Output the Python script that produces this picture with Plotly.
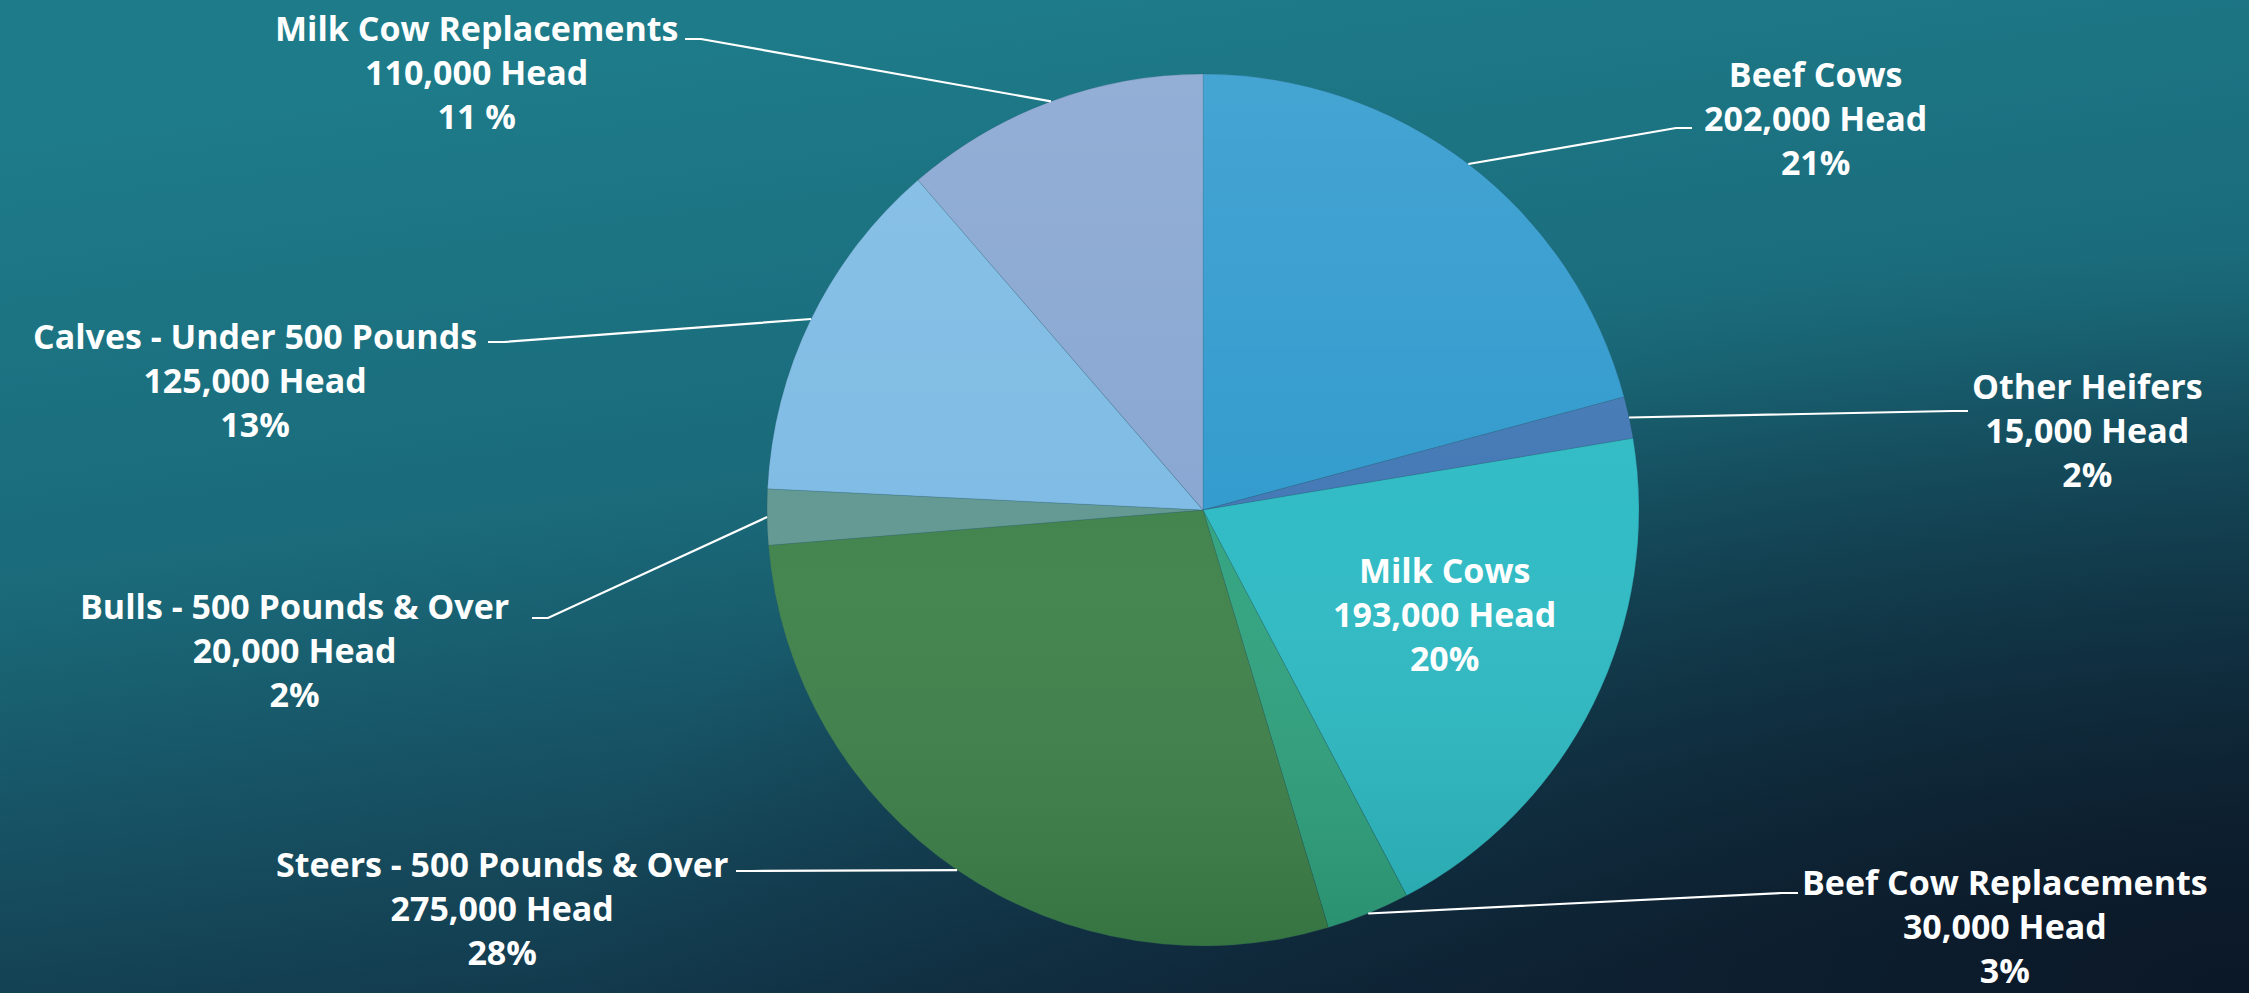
import math, base64
import plotly.graph_objects as go

# ---------------- data ----------------
categories = ["Beef Cows", "Other Heifers", "Milk Cows", "Beef Cow Replacements",
              "Steers - 500 Pounds & Over", "Bulls - 500 Pounds & Over",
              "Calves - Under 500 Pounds", "Milk Cow Replacements"]
head_counts = [202000, 15000, 193000, 30000, 275000, 20000, 125000, 110000]
pct_labels = ["21%", "2%", "20%", "3%", "28%", "2%", "13%", "11 %"]

# ---------------- styles / layout ----------------
colors = ["#2e99cd", "#3f76b4", "#2cbac4", "#2fa27e", "#3e8149", "#5f9790", "#7cbae4", "#86a5d1"]
W, H = 2249, 993
CX, CY, R = 1203, 510, 436            # pie centre / radius in pixels
FONT = dict(family="'Open Sans', Lato, 'DejaVu Sans', sans-serif", size=34, color="white")

# label block centre (x, middle-line y) and leader start (x, y) + direction of short tail
label_pos = {
    "Beef Cows": ((1815, 118), (1692, 128), -1),
    "Other Heifers": ((2087, 430), (1968, 411), -1),
    "Milk Cows": ((1444, 614), None, 0),
    "Beef Cow Replacements": ((2005, 926), (1798, 893), -1),
    "Steers - 500 Pounds & Over": ((502, 908), (736, 871), 1),
    "Bulls - 500 Pounds & Over": ((294, 650), (532, 618), 1),
    "Calves - Under 500 Pounds": ((255, 380), (488, 342), 1),
    "Milk Cow Replacements": ((476, 72), (685, 39), 1),
}


def px(x):
    return x / W


def py(y):
    return 1 - y / H


# background gradient as an svg image
svg = f'''<svg xmlns="http://www.w3.org/2000/svg" width="{W}" height="{H}" viewBox="0 0 {W} {H}" preserveAspectRatio="none">
<defs>
<linearGradient id="g" x1="0.35" y1="0" x2="0.65" y2="1">
<stop offset="0" stop-color="#1e7c8a"/>
<stop offset="0.45" stop-color="#1a6a7a"/>
<stop offset="1" stop-color="#112e42"/>
</linearGradient>
<radialGradient id="v" cx="1" cy="1" r="0.75">
<stop offset="0" stop-color="#0a1422" stop-opacity="0.85"/>
<stop offset="1" stop-color="#0a1422" stop-opacity="0"/>
</radialGradient>
</defs>
<rect width="{W}" height="{H}" fill="url(#g)"/>
<rect width="{W}" height="{H}" fill="url(#v)"/>
</svg>'''
bg_src = "data:image/svg+xml;base64," + base64.b64encode(svg.encode()).decode()

shade_svg = f'''<svg xmlns="http://www.w3.org/2000/svg" width="{2*R}" height="{2*R}" viewBox="0 0 {2*R} {2*R}">
<defs><linearGradient id="p" x1="0" y1="0" x2="0" y2="1">
<stop offset="0" stop-color="#ffffff" stop-opacity="0.11"/>
<stop offset="0.5" stop-color="#ffffff" stop-opacity="0.03"/>
<stop offset="1" stop-color="#002010" stop-opacity="0.14"/>
</linearGradient></defs>
<circle cx="{R}" cy="{R}" r="{R}" fill="url(#p)"/>
</svg>'''
shade_src = "data:image/svg+xml;base64," + base64.b64encode(shade_svg.encode()).decode()

fig = go.Figure(go.Pie(
    labels=categories,
    values=head_counts,
    sort=False,
    direction="clockwise",
    rotation=0,
    marker=dict(colors=colors, line=dict(width=0.6, color="rgba(40,80,100,0.35)")),
    textinfo="none",
    hoverinfo="label+value+percent",
    showlegend=False,
    domain=dict(x=[px(CX - R), px(CX + R)], y=[py(CY + R), py(CY - R)]),
))

total = sum(head_counts)
annotations = []
shapes = []
cum = 0
for name, val, pct in zip(categories, head_counts, pct_labels):
    mid = (cum + val / 2) / total * 2 * math.pi
    cum += val
    (tx, ty), start, d = label_pos[name]
    annotations.append(dict(
        x=px(tx), y=py(ty), xref="paper", yref="paper",
        text=f"<b>{name}</b><br><b>{val:,} Head</b><br><b>{pct}</b>",
        showarrow=False, align="center", xanchor="center", yanchor="middle",
        font=FONT,
    ))
    if start is not None:
        ex, ey = CX + R * math.sin(mid), CY - R * math.cos(mid)
        sx, sy = start
        kx = sx + d * 16
        shapes.append(dict(
            type="path", xref="paper", yref="paper",
            path=f"M {px(sx)} {py(sy)} L {px(kx)} {py(sy)} L {px(ex)} {py(ey)}",
            line=dict(color="white", width=2.2),
        ))

fig.update_layout(
    width=W, height=H,
    margin=dict(l=0, r=0, t=0, b=0),
    paper_bgcolor="#175e70",
    plot_bgcolor="rgba(0,0,0,0)",
    annotations=annotations,
    shapes=shapes,
    images=[
        dict(source=bg_src, xref="paper", yref="paper", x=0, y=1, sizex=1, sizey=1,
             sizing="stretch", layer="below", xanchor="left", yanchor="top"),
        dict(source=shade_src, xref="paper", yref="paper", x=px(CX - R), y=py(CY - R),
             sizex=2 * R / W, sizey=2 * R / H, sizing="stretch", layer="above",
             xanchor="left", yanchor="top"),
    ],
)

fig.write_html(
    "out.html",
    config={"displayModeBar": False},
    post_script="document.body.style.margin='0';document.body.style.overflow='hidden';"
                "document.body.style.background='#175e70';",
)
